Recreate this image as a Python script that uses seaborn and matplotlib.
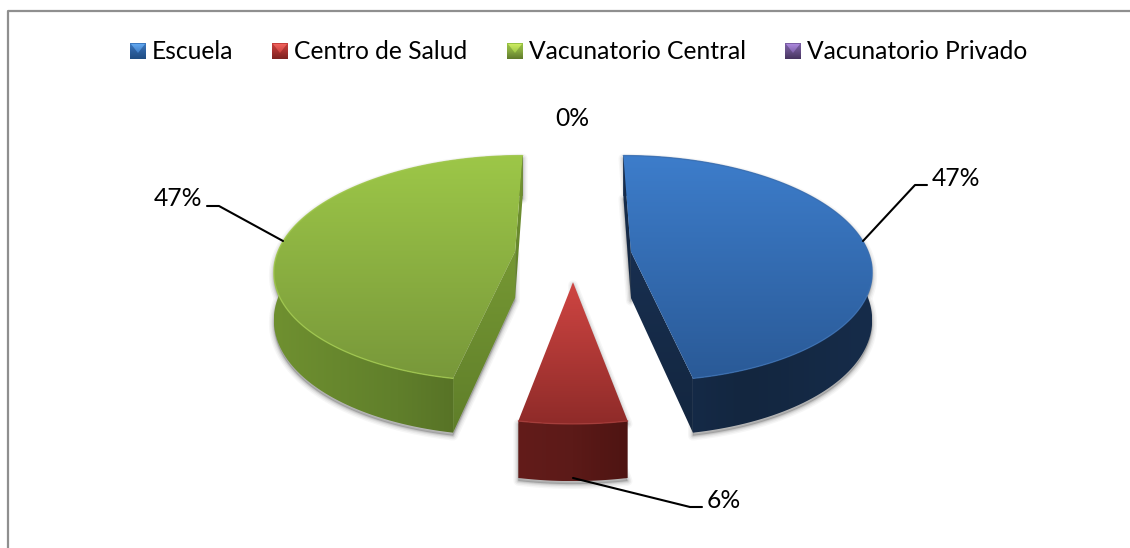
import matplotlib
matplotlib.use("Agg")
import matplotlib.pyplot as plt
import numpy as np
import seaborn as sns
from matplotlib.patches import Polygon

categorias = ["Escuela", "Centro de Salud", "Vacunatorio Central", "Vacunatorio Privado"]
valores = [47, 6, 47, 0]

# degrades de cada fatia: topo, parede curva, parede radial
CORES = {
    "Escuela": dict(topo=["#3d7dcb", "#2a5a97"], curva=["#172f50", "#13263f", "#162c4a"],
                    radial=["#182f50", "#13263f"], borda="#3a70b4"),
    "Centro de Salud": dict(topo=["#cf4542", "#8f2b29"], curva=["#631c1a", "#5c1a18", "#4e1412"],
                            radial=["#631c1a", "#5c1a18"], borda="#a83a37"),
    "Vacunatorio Central": dict(topo=["#9dc748", "#78983a"], curva=["#6f9030", "#607f2b", "#4d6420"],
                                radial=["#769833", "#5f7e2a"], borda="#a3cb4e"),
    "Vacunatorio Privado": dict(topo=["#8064a2", "#5c4776"], curva=["#3f3052", "#3f3052", "#3f3052"],
                                radial=["#3f3052", "#3f3052"], borda="#8064a2"),
}
LEGENDA_CORES = {
    "Escuela": ["#3f7cc4", "#2c5f9e", "#1f4c82"],
    "Centro de Salud": ["#c9403c", "#a83230", "#7c2220"],
    "Vacunatorio Central": ["#9ac545", "#86a83f", "#5f7a2b"],
    "Vacunatorio Privado": ["#7d60a8", "#674f88", "#46345f"],
}
LEGENDA_BRILHO = {
    "Escuela": ["#62a8f0", "#3f7cc4"],
    "Centro de Salud": ["#f0625c", "#c9403c"],
    "Vacunatorio Central": ["#cdeb62", "#9ac545"],
    "Vacunatorio Privado": ["#ab88dc", "#7d60a8"],
}

# geometria da "camara" (pixeis)
CX, CY = 573, 254
RX, RY = 238, 111
PERSP = 0.15
ALTURA = 46.5
EXPLODE = 0.245

# posicao dos rotulos e das linhas de chamada
ROTULOS = {
    "Escuela": dict(txt=(932, 179), ha="left", linha=[(863, 241), (915, 185), (927, 185)]),
    "Centro de Salud": dict(txt=(707, 500), ha="left", linha=[(573, 478), (690, 507), (702, 507)]),
    "Vacunatorio Central": dict(txt=(202, 199), ha="right", linha=[(283, 241), (219, 206), (207, 206)]),
    "Vacunatorio Privado": dict(txt=(572, 119), ha="center", linha=None),
}
LEGENDA_X = [130, 272, 507, 785]
FONTE = 17.7

sns.set_theme(style="white")
plt.rcParams["font.family"] = ["Lato", "DejaVu Sans"]


def projetar(x, y, z=0.0):
    s = 1 / (1 + PERSP * np.asarray(y))
    return np.column_stack([CX + RX * np.asarray(x) * s,
                            CY - RY * np.asarray(y) * s + z * s])


def degrade(ax, verts, cores, vertical=True, zorder=2):
    xs, ys = verts[:, 0], verts[:, 1]
    cmap = sns.blend_palette(cores, as_cmap=True)
    g = np.linspace(0, 1, 256)
    g = g[:, None] if vertical else g[None, :]
    im = ax.imshow(g, cmap=cmap, extent=(xs.min(), xs.max(), ys.max(), ys.min()),
                   aspect="auto", zorder=zorder, interpolation="bilinear", vmin=0, vmax=1)
    im.set_clip_path(Polygon(verts, closed=True, transform=ax.transData))


def parede(a, b):
    return np.vstack([a, b[::-1]])


def lado(a, b, p):
    return np.sign((b[0] - a[0]) * (p[1] - a[1]) - (b[1] - a[1]) * (p[0] - a[0]))


def sombra(ax, silhueta):
    for lw, alfa in zip([7, 5, 3, 1.5], [0.05, 0.07, 0.10, 0.14]):
        ax.add_patch(Polygon(silhueta + [0, 3], closed=True, facecolor="#555555", edgecolor="#555555",
                             alpha=alfa, linewidth=lw, joinstyle="round", zorder=1))


def fatia(ax, inicio, frac, cores):
    meio = inicio + frac / 2
    ex = EXPLODE * np.sin(2 * np.pi * meio)
    ey = EXPLODE * np.cos(2 * np.pi * meio)
    t = 2 * np.pi * np.linspace(inicio, inicio + frac, 120)
    ax_x, ax_y = ex + np.sin(t), ey + np.cos(t)

    arco = projetar(ax_x, ax_y)
    arco_b = projetar(ax_x, ax_y, ALTURA)
    ap = projetar([ex], [ey])
    ap_b = projetar([ex], [ey], ALTURA)

    topo = np.vstack([ap, arco])
    centro = arco[len(arco) // 2]
    sombra(ax, np.vstack([ap, arco, arco_b[::-1], ap_b]))

    degrade(ax, parede(arco, arco_b), cores["curva"], vertical=False, zorder=3)
    # parede radial so aparece se a extrusao sair para fora do topo
    for ponta, ponta_b in [(arco[0], arco_b[0]), (arco[-1], arco_b[-1])]:
        if lado(ap[0], ponta, ap_b[0]) != lado(ap[0], ponta, centro):
            degrade(ax, parede(np.vstack([ap, ponta]), np.vstack([ap_b, ponta_b])),
                    cores["radial"], vertical=True, zorder=4)
    degrade(ax, topo, cores["topo"], vertical=True, zorder=5)
    ax.plot(arco[:, 0], arco[:, 1], color=cores["borda"], lw=1, alpha=0.8, zorder=6)


fig = plt.figure(figsize=(11.3, 5.48), dpi=100, facecolor="white")
ax = fig.add_axes([0, 0, 1, 1])
ax.set_axis_off()

# moldura do grafico, so se ve o topo e a esquerda
ax.plot([7.5, 7.5, 1130], [548, 10.5, 10.5], color="#8f8f8f", lw=1.6, zorder=1)

total = sum(valores)
inicio = 0.0
for cat, v in zip(categorias, valores):
    frac = v / total
    if v > 0:
        fatia(ax, inicio, frac, CORES[cat])
    inicio += frac

    r = ROTULOS[cat]
    ax.text(r["txt"][0], r["txt"][1], f"{v / total * 100:.0f}%", ha=r["ha"], va="center",
            fontsize=FONTE, color="black", zorder=8)
    if r["linha"]:
        ax.plot(*zip(*r["linha"]), color="black", lw=1.5, zorder=7)

for cat, x0 in zip(categorias, LEGENDA_X):
    q = np.array([[x0, 43], [x0 + 16, 43], [x0 + 16, 59], [x0, 59]], dtype=float)
    degrade(ax, q, LEGENDA_CORES[cat], vertical=True, zorder=3)
    brilho = np.array([[x0 + 1, 44], [x0 + 15, 44], [x0 + 8, 53]], dtype=float)
    degrade(ax, brilho, LEGENDA_BRILHO[cat], vertical=True, zorder=4)
    ax.text(x0 + 22, 51.5, cat, ha="left", va="center", fontsize=FONTE, color="black")

ax.set_xlim(0, 1130)
ax.set_ylim(548, 0)
fig.savefig("out.png", dpi=100, facecolor="white")
plt.close(fig)
